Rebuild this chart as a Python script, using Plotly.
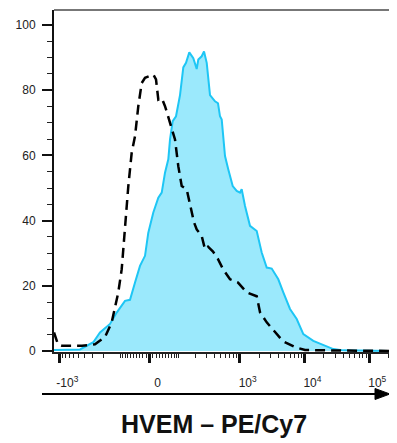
import numpy as np
import plotly.graph_objects as go

# ---- data (x in biexponential display units, y = % of max) ----
hvem_x = [-3.394, -2.470, -1.997, -1.759, -1.404, -1.166, -0.871, -0.693, -0.515, -0.338,
          -0.160, -0.043, 0.135, 0.313, 0.434, 0.551, 0.668, 0.729, 0.824, 0.942,
          1.084, 1.201, 1.297, 1.414, 1.557, 1.677, 1.734, 1.855, 1.937, 2.033,
          2.150, 2.328, 2.434, 2.505, 2.566, 2.683, 2.800, 2.957, 3.099, 3.216,
          3.276, 3.394, 3.571, 3.810, 3.987, 4.165, 4.343, 4.577, 4.755, 4.993,
          5.231, 5.466, 5.821, 6.176, 6.532, 6.887, 7.480, 8.795]
hvem_y = [0.3, 0.5, 2.7, 5.7, 8.3, 11.8, 15.4, 15.7, 21.0, 26.1,
          29.2, 36.3, 42.5, 47.0, 48.6, 54.7, 58.8, 64.9, 70.5, 72.0,
          78.5, 87.0, 88.4, 91.6, 89.8, 86.5, 89.4, 90.4, 91.9, 88.4,
          78.5, 76.6, 76.0, 72.0, 71.0, 59.8, 55.7, 50.6, 49.1, 48.6,
          49.6, 44.5, 38.4, 36.8, 30.2, 25.6, 25.3, 22.0, 18.0, 12.9,
          9.8, 5.2, 3.1, 1.8, 0.6, 0.2, 0.1, 0.0]

iso_x = [-3.394, -3.252, -3.110, -2.399, -1.937, -1.581, -1.343, -1.109, -0.988, -0.871,
         -0.753, -0.633, -0.515, -0.398, -0.277, -0.160, 0.018, 0.135, 0.231, 0.313,
         0.434, 0.551, 0.729, 0.906, 1.023, 1.144, 1.322, 1.510, 1.580, 1.677,
         1.855, 1.972, 2.079, 2.257, 2.434, 2.612, 2.861, 3.145, 3.454, 3.810,
         3.927, 4.165, 4.460, 4.744, 5.171, 5.526, 6.308, 8.795]
iso_y = [5.7, 2.0, 1.6, 1.6, 2.1, 4.3, 8.8, 18.0, 25.1, 38.4,
         50.6, 60.8, 65.9, 75.1, 82.2, 83.8, 84.3, 84.8, 83.3, 77.1,
         77.6, 75.1, 70.0, 64.9, 56.7, 50.6, 49.6, 42.0, 39.5, 37.3,
         35.3, 31.2, 32.0, 30.5, 28.2, 25.1, 22.0, 21.0, 18.0, 16.8,
         11.9, 8.8, 5.7, 3.0, 1.2, 0.3, 0.2, 0.0]

major_vals = [-1000, 0, 1000, 10000, 100000]
major_text = ["-10<sup>3</sup>", "0", "10<sup>3</sup>", "10<sup>4</sup>", "10<sup>5</sup>"]
minor_vals = ([-m * 10 for m in range(1, 10)] + [-m * 100 for m in range(1, 10)]
              + [m * 10 for m in range(1, 10)] + [m * 100 for m in range(1, 10)]
              + [m * 1000 for m in range(2, 10)] + [m * 10000 for m in range(2, 10)] + [200000])
y_ticks = [0, 20, 40, 60, 80, 100]

X_RANGE = [-3.394, 8.795]
Y_RANGE = [-0.3, 104.6]
W_BIEX = 81.2


def biex(v):
    return float(np.arcsinh(np.asarray(v) / W_BIEX))


fig = go.Figure()
fig.add_trace(go.Scatter(x=hvem_x, y=hvem_y, mode="lines", fill="tozeroy",
                         fillcolor="rgb(155,233,252)",
                         line=dict(color="rgb(30,198,245)", width=2),
                         hoverinfo="skip", showlegend=False))
fig.add_trace(go.Scatter(x=iso_x, y=iso_y, mode="lines",
                         line=dict(color="black", width=2.5, dash="10px,6px"),
                         hoverinfo="skip", showlegend=False))

font = "Liberation Sans, Arial, sans-serif"
# page has an 8px body margin; figure sized/margined so the plot area sits at page px 54..397, 10..352
fig.update_layout(
    width=389, height=435,
    margin=dict(l=46, r=0, t=2, b=91),
    plot_bgcolor="white", paper_bgcolor="white",
    font=dict(family=font, color="#222"),
    xaxis=dict(range=X_RANGE, showgrid=False, zeroline=False,
               showline=True, linecolor="#222", linewidth=1.5,
               ticks="outside", ticklen=9, tickwidth=2.5, tickcolor="#111",
               tickvals=[biex(v) for v in major_vals], ticktext=major_text,
               tickfont=dict(size=12, color="#222"),
               ticklabelshift=8, ticklabelstandoff=10,
               minor=dict(tickvals=[biex(v) for v in minor_vals], ticks="outside",
                          ticklen=4, tickwidth=1.2, tickcolor="#222")),
    yaxis=dict(range=Y_RANGE, showgrid=False, zeroline=False,
               showline=True, linecolor="#111", linewidth=2,
               ticks="outside", ticklen=10, tickwidth=2, tickcolor="#111",
               tickvals=y_ticks,
               tickfont=dict(size=12, color="#222"),
               ticklabelstandoff=4,
               minor=dict(dtick=5, ticks="outside", ticklen=5, tickwidth=1.2,
                          tickcolor="#222")),
)

# top frame line
fig.add_shape(type="line", xref="paper", yref="paper", x0=0, x1=1, y0=1, y1=1,
              line=dict(color="#777", width=2))


def px2paper_x(px):
    return (px - 54) / 343.0


def py2paper_y(py):
    return (352 - py) / 342.0


# arrow below axis
fig.add_shape(type="line", xref="paper", yref="paper",
              x0=px2paper_x(42), x1=px2paper_x(378), y0=py2paper_y(394), y1=py2paper_y(394),
              line=dict(color="black", width=1.8))
fig.add_shape(type="path", xref="paper", yref="paper",
              path=(f"M {px2paper_x(375)},{py2paper_y(388.5)} L {px2paper_x(390)},{py2paper_y(394)} "
                    f"L {px2paper_x(375)},{py2paper_y(399.5)} Z"),
              fillcolor="black", line=dict(color="black", width=1))

fig.add_annotation(text="<b>HVEM – PE/Cy7</b>", xref="paper", yref="paper",
                   x=px2paper_x(214), y=py2paper_y(424), xanchor="center", yanchor="middle",
                   showarrow=False, font=dict(family=font, size=25, color="#111"))

fig.write_html("out.html")
